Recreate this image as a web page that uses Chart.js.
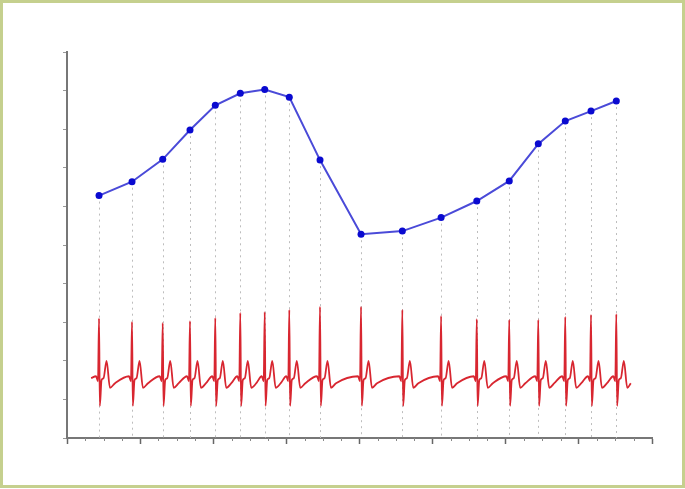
<!DOCTYPE html>
<html>
<head>
<meta charset="utf-8">
<script src="https://cdn.jsdelivr.net/npm/chart.js@4.4.1/dist/chart.umd.min.js"></script>
<style>
  html, body { margin: 0; padding: 0; background: #fff; }
  #wrap { position: relative; width: 685px; height: 489px; }
  #frame {
    position: absolute; left: 0; top: 0; width: 685px; height: 488px;
    box-sizing: border-box; border: 3px solid #c5d08e; pointer-events: none;
  }
  canvas { position: absolute; left: 0; top: 0; }
</style>
</head>
<body>
<div id="wrap">
  <canvas id="chart" width="685" height="489"></canvas>
  <div id="frame"></div>
</div>
<script>
// beat times (x) shared by the blue curve and the ECG R-peaks
let beatTimes = [0.438, 0.889, 1.309, 1.682, 2.028, 2.370, 2.704, 3.040, 3.460,
                 4.021, 4.586, 5.116, 5.604, 6.048, 6.445, 6.814, 7.166, 7.512];
// blue series values
let rateValues = [6.28, 6.64, 7.22, 7.98, 8.62, 8.93, 9.03, 8.83, 7.20,
                  5.28, 5.36, 5.71, 6.14, 6.66, 7.62, 8.21, 8.47, 8.73];
// ECG R-peak heights per beat
let rPeaks = [3.10, 3.01, 2.98, 3.03, 3.11, 3.24, 3.26, 3.32, 3.40,
              3.40, 3.32, 3.16, 3.08, 3.06, 3.06, 3.14, 3.19, 3.21];
// one beat: offsets from the R-peak and levels (null = R-peak)
let beatOffsets = [-0.041, -0.014, 0, 0.011, 0.034, 0.062, 0.103, 0.150, 0.219];
let beatLevels  = [1.60, 1.47, null, 0.83, 1.50, 1.55, 2.00, 1.30, 1.42];
let ecgStart = { x: 0.33, y: 1.55 };
let ecgEnd = { x: 7.71, y: 1.42 };

let xTicks = [0, 1, 2, 3, 4, 5, 6, 7, 8];
let yTicks = [0, 1, 2, 3, 4, 5, 6, 7, 8, 9, 10];

let bluePoints = beatTimes.map((t, i) => ({ x: t, y: rateValues[i] }));

let ecgPoints = [ecgStart];
beatTimes.forEach((t, i) => {
    let last = i === beatTimes.length - 1;
    beatOffsets.forEach((o, k) => {
        if (last && t + o > ecgEnd.x) return;
        ecgPoints.push({ x: t + o, y: beatLevels[k] === null ? rPeaks[i] : beatLevels[k] });
    });
});
ecgPoints.push(ecgEnd);

// dotted drop lines from every blue point down to the x axis
const dropLines = {
    id: 'dropLines',
    beforeDatasetsDraw(chart) {
        let { ctx, scales: { x, y } } = chart;
        ctx.save();
        ctx.strokeStyle = '#bdbdbd';
        ctx.lineWidth = 1;
        ctx.setLineDash([2, 4]);
        bluePoints.forEach(p => {
            let px = Math.round(x.getPixelForValue(p.x)) + 0.5;
            ctx.beginPath();
            ctx.moveTo(px, y.getPixelForValue(p.y));
            ctx.lineTo(px, y.getPixelForValue(0));
            ctx.stroke();
        });
        ctx.restore();
    }
};

// short minor ticks under the x axis
const minorTicks = {
    id: 'minorTicks',
    afterDraw(chart) {
        let { ctx, scales: { x, y } } = chart;
        let base = y.getPixelForValue(0);
        ctx.save();
        ctx.strokeStyle = '#888';
        ctx.lineWidth = 1;
        for (let v = 0; v < xTicks[xTicks.length - 1]; v += 0.25) {
            if (Number.isInteger(v)) continue;
            let px = Math.round(x.getPixelForValue(v)) + 0.5;
            ctx.beginPath();
            ctx.moveTo(px, base);
            ctx.lineTo(px, base + 3);
            ctx.stroke();
        }
        ctx.restore();
    }
};

let ctx = document.getElementById('chart').getContext('2d');
let chart = new Chart(ctx, {
    type: 'line',
    data: {
        datasets: [{
            data: bluePoints,
            borderColor: '#4a4ad8',
            backgroundColor: '#0a0ad0',
            borderWidth: 2,
            pointRadius: 3.5,
            pointBorderWidth: 0,
            tension: 0
        }, {
            data: ecgPoints,
            borderColor: '#d82630',
            borderWidth: 1.8,
            pointRadius: 0,
            cubicInterpolationMode: 'monotone'
        }]
    },
    options: {
        responsive: false,
        animation: false,
        devicePixelRatio: 1,
        layout: { padding: { left: 57, top: 52, right: 33, bottom: 41 } },
        plugins: { legend: { display: false }, tooltip: { enabled: false } },
        scales: {
            x: {
                type: 'linear',
                min: xTicks[0],
                max: xTicks[xTicks.length - 1],
                afterBuildTicks: s => { s.ticks = xTicks.map(v => ({ value: v })); },
                afterFit: s => { s.height = 10; },
                ticks: { display: false },
                grid: { drawOnChartArea: false, tickLength: 6, tickColor: '#666', tickWidth: 1.5 },
                border: { color: '#777', width: 2 }
            },
            y: {
                min: yTicks[0],
                max: yTicks[yTicks.length - 1],
                afterBuildTicks: s => { s.ticks = yTicks.map(v => ({ value: v })); },
                afterFit: s => { s.width = 10; },
                ticks: { display: false },
                grid: { drawOnChartArea: false, tickLength: 4, tickColor: '#999', tickWidth: 1 },
                border: { color: '#777', width: 2 }
            }
        }
    },
    plugins: [dropLines, minorTicks]
});
</script>
</body>
</html>
